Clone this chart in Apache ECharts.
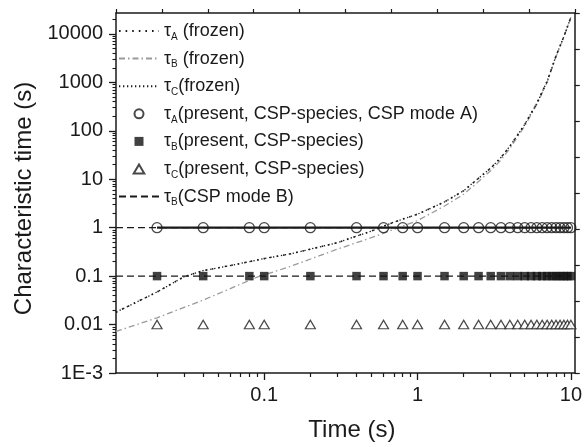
<!DOCTYPE html>
<html>
<head>
<meta charset="utf-8">
<script src="https://cdn.jsdelivr.net/npm/echarts@6/dist/echarts.min.js"></script>
<style>
html,body{margin:0;padding:0;background:#fff;}
#chart{width:585px;height:447px;}
</style>
</head>
<body>
<div id="chart"></div>
<script>
// ---- data ----
const markerTimes = [0.02, 0.04, 0.08, 0.1, 0.2, 0.4, 0.6, 0.8, 1, 1.5, 2, 2.5, 3, 3.5, 4, 4.5, 5, 5.5, 6, 6.5, 7, 7.5, 8, 8.5, 9, 9.5, 10];
const tauAPresent = [1, 1, 1, 1, 1, 1, 1, 1, 1, 1, 1, 1, 1, 1, 1, 1, 1, 1, 1, 1, 1, 1, 1, 1, 1, 1, 1];
const tauBPresent = [0.1, 0.1, 0.1, 0.1, 0.1, 0.1, 0.1, 0.1, 0.1, 0.1, 0.1, 0.1, 0.1, 0.1, 0.1, 0.1, 0.1, 0.1, 0.1, 0.1, 0.1, 0.1, 0.1, 0.1, 0.1, 0.1, 0.1];
const tauCPresent = [0.01, 0.01, 0.01, 0.01, 0.01, 0.01, 0.01, 0.01, 0.01, 0.01, 0.01, 0.01, 0.01, 0.01, 0.01, 0.01, 0.01, 0.01, 0.01, 0.01, 0.01, 0.01, 0.01, 0.01, 0.01, 0.01, 0.01];

const frozenTimesA = [0.0108, 0.015, 0.02, 0.03, 0.04, 0.06, 0.1, 0.15, 0.2, 0.3, 0.5, 0.7, 1, 1.5, 2, 2.5, 3, 3.5, 4, 5, 6, 7, 8, 9, 10];
const tauAFrozen   = [0.018, 0.03, 0.047, 0.097, 0.13, 0.165, 0.23, 0.29, 0.36, 0.49, 0.85, 1.3, 1.9, 3.4, 5.8, 10.5, 17, 28, 48, 135, 370, 1050, 3500, 8800, 22000];
const tauCFrozen   = [0.018, 0.03, 0.047, 0.097, 0.13, 0.165, 0.23, 0.29, 0.36, 0.49, 0.85, 1.3, 1.9, 3.4, 5.8, 10.5, 17, 28, 48, 135, 370, 1050, 3500, 8800, 22000];
const frozenTimesB = [0.0108, 0.02, 0.04, 0.089, 0.146, 0.3, 0.5, 0.7, 1, 1.5, 2, 2.5, 3, 3.5, 4, 5, 6, 7, 8, 9, 10];
const tauBFrozen   = [0.0072, 0.0138, 0.032, 0.094, 0.156, 0.36, 0.62, 0.92, 1.4, 2.8, 4.9, 9, 15, 25, 43, 125, 350, 1000, 3400, 8600, 22000];

const cspTimes = [0.0108, 10];
const tauBCsp = [0.1, 0.1];
const tauAModeBRef = [1, 1];

const xMajorTicks = [0.1, 1, 10];
const xMinorTicks = [0.02, 0.03, 0.04, 0.05, 0.06, 0.07, 0.08, 0.09, 0.2, 0.3, 0.4, 0.5, 0.6, 0.7, 0.8, 0.9, 2, 3, 4, 5, 6, 7, 8, 9];
const yMajorTicks = [0.001, 0.01, 0.1, 1, 10, 100, 1000, 10000];
const yTickLabels = ['1E-3', '0.01', '0.1', '1', '10', '100', '1000', '10000'];
const yMinorTicks = [];
[0.001, 0.01, 0.1, 1, 10, 100, 1000, 10000].forEach(function (d) {
  [2, 3, 4, 5, 6, 7, 8, 9].forEach(function (m) { const v = +(d * m).toPrecision(3); if (v < 27000) yMinorTicks.push(v); });
});

const legendTexts = {
  tauA_frozen: '{g|τ}{s|A}{g| (frozen)}',
  tauB_frozen: '{g|τ}{s|B}{g| (frozen)}',
  tauC_frozen: '{g|τ}{s|C}{g|(frozen)}',
  tauA_present: '{g|τ}{s|A}{g|(present, CSP-species, CSP mode A)}',
  tauB_present: '{g|τ}{s|B}{g|(present, CSP-species)}',
  tauC_present: '{g|τ}{s|C}{g|(present, CSP-species)}',
  tauB_csp: '{g|τ}{s|B}{g|(CSP mode B)}'
};
const hideSym = { opacity: 0 };
const legendData = [
  { name: 'tauA_frozen', itemStyle: hideSym },
  { name: 'tauB_frozen', itemStyle: hideSym },
  { name: 'tauC_frozen', itemStyle: hideSym },
  { name: 'tauA_present', icon: 'circle' },
  { name: 'tauB_present', icon: 'path://M0,0H10V10H0Z' },
  { name: 'tauC_present', icon: 'path://M5,0L10,8.5L0,8.5Z' },
  { name: 'tauB_csp', itemStyle: hideSym }
];

function zip(xs, ys) { return xs.map(function (x, i) { return [x, ys[i]]; }); }

const FONT = '"Liberation Sans", Arial, sans-serif';
const INK = '#1a1a1a';
const XMIN = 0.0108, XMAX = 10.6, YMIN = 0.001, YMAX = 27000;

const chart = echarts.init(document.getElementById('chart'));
chart.setOption({
  animation: false,
  backgroundColor: '#fff',
  grid: { left: 116, right: 8, top: 13, bottom: 69, containLabel: false },
  legend: {
    data: legendData,
    orient: 'vertical',
    left: 118, top: 20,
    padding: 0,
    itemWidth: 40, itemHeight: 9, itemGap: 5.6,
    symbolKeepAspect: true,
    selectedMode: false,
    formatter: function (n) { return legendTexts[n]; },
    textStyle: {
      fontFamily: FONT, fontSize: 18, color: INK, lineHeight: 22,
      rich: {
        g: { fontFamily: FONT, fontSize: 18, color: INK, lineHeight: 22 },
        s: { fontFamily: FONT, fontSize: 10, color: INK, lineHeight: 9, verticalAlign: 'bottom' }
      }
    }
  },
  xAxis: [
    {
      type: 'log', min: XMIN, max: XMAX, position: 'bottom',
      name: 'Time (s)', nameLocation: 'middle', nameGap: 45,
      nameTextStyle: { fontFamily: FONT, fontSize: 24, color: INK, padding: [0, 0, 0, 13] },
      axisLine: { show: true, onZero: false, lineStyle: { color: INK, width: 1.5 } },
      axisTick: { show: true, inside: false, length: 7, customValues: xMajorTicks, lineStyle: { color: INK, width: 1.3 } },
      axisLabel: { show: true, customValues: xMajorTicks, margin: 12, fontFamily: FONT, fontSize: 20, color: INK,
        formatter: function (v) { return v >= 10 ? '10' : (v >= 1 ? '1' : '0.1'); } },
      splitLine: { show: false }, minorTick: { show: false }
    },
    {
      type: 'log', min: XMIN, max: XMAX, position: 'bottom',
      axisLine: { show: false, onZero: false },
      axisTick: { show: true, inside: false, length: 4, customValues: xMinorTicks, lineStyle: { color: INK, width: 1.2 } },
      axisLabel: { show: false }, splitLine: { show: false }
    },
    {
      type: 'value', min: 0, max: 10, interval: 1, position: 'top',
      axisLine: { show: true, onZero: false, lineStyle: { color: INK, width: 1.5 } },
      axisTick: { show: true, inside: false, length: 4, lineStyle: { color: INK, width: 1.2 } },
      axisLabel: { show: false }, splitLine: { show: false }
    }
  ],
  yAxis: [
    {
      type: 'log', min: YMIN, max: YMAX, position: 'left',
      name: 'Characteristic time (s)', nameLocation: 'middle', nameGap: 80, nameRotate: 90,
      nameTextStyle: { fontFamily: FONT, fontSize: 24, color: INK, padding: [0, 11, 0, 0] },
      axisLine: { show: true, onZero: false, lineStyle: { color: INK, width: 1.5 } },
      axisTick: { show: true, inside: false, length: 7, customValues: yMajorTicks, lineStyle: { color: INK, width: 1.3 } },
      axisLabel: { show: true, customValues: yMajorTicks, margin: 13, fontFamily: FONT, fontSize: 20, color: INK,
        formatter: function (v) { const k = Math.round(Math.log10(v)) + 3; return yTickLabels[k]; } },
      splitLine: { show: false }, minorTick: { show: false }
    },
    {
      type: 'log', min: YMIN, max: YMAX, position: 'left',
      axisLine: { show: false, onZero: false },
      axisTick: { show: true, inside: false, length: 3.5, customValues: yMinorTicks, lineStyle: { color: INK, width: 1.1 } },
      axisLabel: { show: false }, splitLine: { show: false }
    },
    {
      type: 'value', min: 0, max: 10, interval: 1, position: 'right',
      axisLine: { show: true, onZero: false, lineStyle: { color: INK, width: 1.5 } },
      axisTick: { show: true, inside: false, length: 5, lineStyle: { color: INK, width: 1.2 } },
      axisLabel: { show: false }, splitLine: { show: false }
    }
  ],
  series: [
    { name: 'tauA_modeB_ref', type: 'line', data: zip(cspTimes, tauAModeBRef), symbol: 'none', silent: true,
      lineStyle: { color: INK, width: 1.3, type: [7, 4] }, z: 2 },
    { name: 'tauB_csp', type: 'line', data: zip(cspTimes, tauBCsp), symbol: 'none', showSymbol: false,
      lineStyle: { color: INK, width: 1.3, type: [7, 4] }, itemStyle: { color: INK }, z: 2 },
    { name: 'tauA_solid', type: 'line', data: zip(markerTimes, tauAPresent), symbol: 'none', silent: true,
      lineStyle: { color: INK, width: 2.2, type: 'solid' }, z: 4 },
    { name: 'tauB_frozen', type: 'line', data: zip(frozenTimesB, tauBFrozen), symbol: 'none', showSymbol: false,
      lineStyle: { color: '#9a9a9a', width: 1.3, type: [6, 3, 1.5, 3] }, itemStyle: { color: '#9a9a9a' }, z: 2 },
    { name: 'tauA_frozen', type: 'line', data: zip(frozenTimesA, tauAFrozen), symbol: 'none', showSymbol: false,
      lineStyle: { color: INK, width: 1.6, type: [1.6, 5] }, itemStyle: { color: INK }, z: 3 },
    { name: 'tauC_frozen', type: 'line', data: zip(frozenTimesA, tauCFrozen), symbol: 'none', showSymbol: false,
      lineStyle: { color: INK, width: 1.3, type: [1.3, 2.7] }, itemStyle: { color: INK }, z: 3 },
    { name: 'tauA_present', type: 'scatter', data: zip(markerTimes, tauAPresent), symbol: 'circle', symbolSize: 10,
      itemStyle: { color: 'rgba(255,255,255,0)', borderColor: INK, borderWidth: 1.3 }, z: 5 },
    { name: 'tauB_present', type: 'scatter', data: zip(markerTimes, tauBPresent), symbol: 'rect', symbolSize: 8.5,
      itemStyle: { color: '#111', borderColor: '#111', borderWidth: 0 }, z: 5 },
    { name: 'tauC_present', type: 'scatter', data: zip(markerTimes, tauCPresent), symbol: 'triangle', symbolSize: [10, 8.5],
      itemStyle: { color: '#fff', borderColor: INK, borderWidth: 1.2 }, z: 5 }
  ]
});
</script>
</body>
</html>
